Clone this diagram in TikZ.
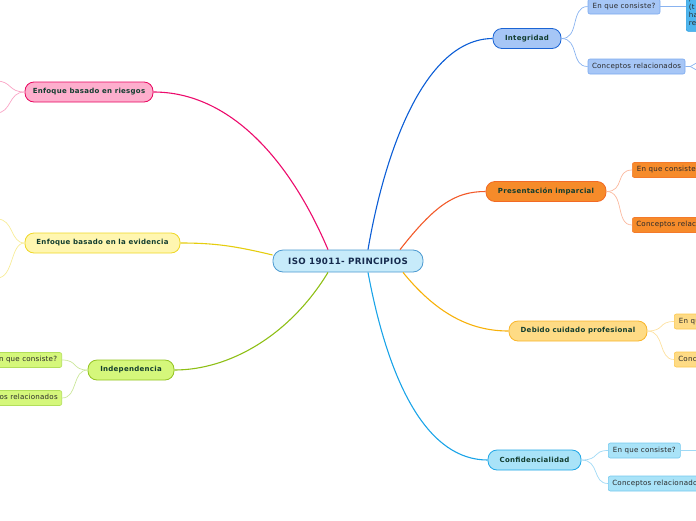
\documentclass[tikz,border=0pt]{standalone}
\usepackage{fontspec}
\setmainfont{DejaVu Sans}
\newfontfamily\ctrfont[LetterSpace=4]{DejaVu Sans}
\newfontfamily\mainfont[LetterSpace=4]{DejaVu Sans}
\newfontfamily\subfont[LetterSpace=3]{DejaVu Sans}
\usetikzlibrary{calc}
\definecolor{ctrF}{HTML}{C7EBFA}\definecolor{ctrD}{HTML}{4B99D0}\definecolor{ctrT}{HTML}{152A4D}
\definecolor{mainT}{HTML}{123D2F}\definecolor{subT}{HTML}{2A2A2A}
\definecolor{intF}{HTML}{A6C6F6}\definecolor{intD}{HTML}{1B64D4}\definecolor{intL}{HTML}{0C5ED6}\definecolor{intS}{HTML}{7AA9EF}\definecolor{intSL}{HTML}{89B3F0}
\definecolor{preF}{HTML}{F68B2A}\definecolor{preD}{HTML}{F26A25}\definecolor{preL}{HTML}{F25A2A}\definecolor{preS}{HTML}{F47A2A}\definecolor{preSL}{HTML}{FBB89E}
\definecolor{debF}{HTML}{FEDB85}\definecolor{debD}{HTML}{F9B52A}\definecolor{debL}{HTML}{F7B10A}\definecolor{debS}{HTML}{FCC84F}\definecolor{debSL}{HTML}{FDE1A0}
\definecolor{conF}{HTML}{A9E3F8}\definecolor{conD}{HTML}{1EA6E6}\definecolor{conL}{HTML}{1BA4E8}\definecolor{conS}{HTML}{74C9EF}\definecolor{conSL}{HTML}{9FD9F5}
\definecolor{riF}{HTML}{FDAECD}\definecolor{riD}{HTML}{E8065F}\definecolor{riL}{HTML}{EC0B6C}\definecolor{riSL}{HTML}{F9A3C5}
\definecolor{evF}{HTML}{FFF6B0}\definecolor{evD}{HTML}{EFD726}\definecolor{evL}{HTML}{E5CD0E}\definecolor{evSL}{HTML}{F7EC98}
\definecolor{indF}{HTML}{D5F77B}\definecolor{indD}{HTML}{93C321}\definecolor{indL}{HTML}{8EBF15}\definecolor{indS}{HTML}{B3DF5A}\definecolor{indSL}{HTML}{CBE79A}
\definecolor{deepF}{HTML}{4DB5EE}\definecolor{deepD}{HTML}{2A9DE0}
\tikzset{
  ctrbox/.style={draw=ctrD,fill=ctrF,line width=0.8pt,rounded corners=10pt,minimum width=150pt,minimum height=22pt,inner sep=0pt,text=ctrT,font=\ctrfont\fontsize{8.7}{9}\selectfont\bfseries},
  mainbox/.style={line width=0.8pt,rounded corners=9pt,minimum height=20pt,inner sep=0pt,text=mainT,font=\mainfont\fontsize{7}{8}\selectfont\bfseries},
  subbox/.style={line width=0.6pt,rounded corners=2pt,minimum height=15pt,inner sep=0pt,text=subT,font=\subfont\fontsize{7.1}{8}\selectfont},
  mainline/.style={line width=1.1pt},
  subline/.style={line width=0.7pt},
}
\begin{document}
\begin{tikzpicture}[x=1pt,y=-1pt]
\useasboundingbox (0,0) rectangle (696,520);
\clip (0,0) rectangle (696,520);
% center
\node[ctrbox] (c) at (348,261) {ISO 19011- PRINCIPIOS};
% main branches
\node[mainbox,draw=intD,fill=intF,minimum width=68pt] (int) at (527,38.5) {Integridad};
\node[mainbox,draw=preD,fill=preF,minimum width=120pt] (pre) at (546,191.5) {Presentación imparcial};
\node[mainbox,draw=debD,fill=debF,minimum width=138pt] (deb) at (578,331) {Debido cuidado profesional};
\node[mainbox,draw=conD,fill=conF,minimum width=93pt] (con) at (534.5,460) {Confidencialidad};
\node[mainbox,draw=riD,fill=riF,minimum width=128pt] (ri) at (89,92) {Enfoque basado en riesgos};
\node[mainbox,draw=evD,fill=evF,minimum width=155pt] (ev) at (102.5,243) {Enfoque basado en la evidencia};
\node[mainbox,draw=indD,fill=indF,minimum width=86pt] (ind) at (131,370) {Independencia};
% main connectors
\draw[mainline,intL] ([xshift=20pt]c.north) .. controls (385,150) and (425,39) .. (int.west);
\draw[mainline,preL] ([xshift=52pt]c.north) .. controls (435,205) and (455,191.5) .. (pre.west);
\draw[mainline,debL] ([xshift=55pt]c.south) .. controls (440,318) and (475,331) .. (deb.west);
\draw[mainline,conL] ([xshift=20pt]c.south) .. controls (390,390) and (430,460) .. (con.west);
\draw[mainline,riL] ([xshift=-20pt]c.north) .. controls (290,160) and (230,92) .. (ri.east);
\draw[mainline,evL] ([yshift=6pt]c.west) .. controls (235,246) and (215,243) .. (ev.east);
\draw[mainline,indL] ([xshift=-20pt]c.south) .. controls (290,335) and (230,370) .. (ind.east);
% sub nodes: Integridad
\node[subbox,draw=intS,fill=intF,minimum width=72pt] (int1) at (624,6.5) {En que consiste?};
\node[subbox,draw=intS,fill=intF,minimum width=97pt] (int2) at (636.5,66.5) {Conceptos relacionados};
\node[draw=deepD,fill=deepF,line width=0.6pt,rounded corners=2pt,text width=55pt,minimum height=40pt,inner xsep=2.5pt,inner ysep=1pt,text=subT,font=\subfont\fontsize{7.1}{8.4}\selectfont,align=left,anchor=north west] (int1a) at (686,-9) {p\\(t\\ha\\re};
\draw[subline,intSL] (int.east) .. controls (580,39) and (570,6.5) .. (int1.west);
\draw[subline,intSL] (int.east) .. controls (580,39) and (570,66.5) .. (int2.west);
\draw[subline,intSL] (int1.east) -- (int1.east -| int1a.west);
\coordinate (f1) at (700,61);
\coordinate (f2) at (700,72);
\draw[subline,intSL] (int2.east) -- ++(5,0) -- (f1);
\draw[subline,intSL] (int2.east) ++(5,0) -- (f2);
% Presentación imparcial
\node[subbox,draw=preS,fill=preF,minimum width=72pt,anchor=west] (pre1) at (632,170) {En que consiste?};
\node[subbox,draw=preS,fill=preF,minimum width=97pt,anchor=west] (pre2) at (632,225) {Conceptos relacionados};
\draw[subline,preSL] (pre.east) .. controls (625,191.5) and (615,170) .. (pre1.west);
\draw[subline,preSL] (pre.east) .. controls (625,191.5) and (615,225) .. (pre2.west);
% Debido cuidado
\node[subbox,draw=debS,fill=debF,minimum width=72pt,anchor=west] (deb1) at (674,321.5) {En que consiste?};
\node[subbox,draw=debS,fill=debF,minimum width=97pt,anchor=west] (deb2) at (674,359.5) {Conceptos relacionados};
\draw[subline,debSL] (deb.east) .. controls (665,331) and (658,321.5) .. (deb1.west);
\draw[subline,debSL] (deb.east) .. controls (665,331) and (658,359.5) .. (deb2.west);
% Confidencialidad
\node[subbox,draw=conS,fill=conF,minimum width=72pt,anchor=west] (con1) at (608,450.5) {En que consiste?};
\node[subbox,draw=conS,fill=conF,minimum width=97pt,anchor=west] (con2) at (608,483.5) {Conceptos relacionados};
\coordinate (con1x) at (702,450.5);
\draw[subline,conSL] (con.east) .. controls (600,460) and (592,450.5) .. (con1.west);
\draw[subline,conSL] (con.east) .. controls (600,460) and (592,483.5) .. (con2.west);
\draw[subline,conSL] (con1.east) -- (con1x);
% Independencia
\node[subbox,draw=indS,fill=indF,minimum width=72pt,anchor=east] (ind1) at (62,360) {En que consiste?};
\node[subbox,draw=indS,fill=indF,minimum width=97pt,anchor=east] (ind2) at (62,398) {Conceptos relacionados};
\draw[subline,indSL] (ind.west) .. controls (72,370) and (78,360) .. (ind1.east);
\draw[subline,indSL] (ind.west) .. controls (72,370) and (78,398) .. (ind2.east);
% Riesgos (children off the page)
\coordinate (ri1) at (-4,81);
\coordinate (ri2) at (-4,113);
\draw[subline,riSL] (ri.west) .. controls (8,92) and (12,81) .. (ri1);
\draw[subline,riSL] (ri.west) .. controls (8,92) and (12,113) .. (ri2);
% Evidencia (children off the page)
\coordinate (ev1) at (-3,219);
\coordinate (ev2) at (-3,278);
\draw[subline,evSL] (ev.west) .. controls (10,243) and (14,219) .. (ev1);
\draw[subline,evSL] (ev.west) .. controls (10,243) and (14,278) .. (ev2);
\end{tikzpicture}
\end{document}
